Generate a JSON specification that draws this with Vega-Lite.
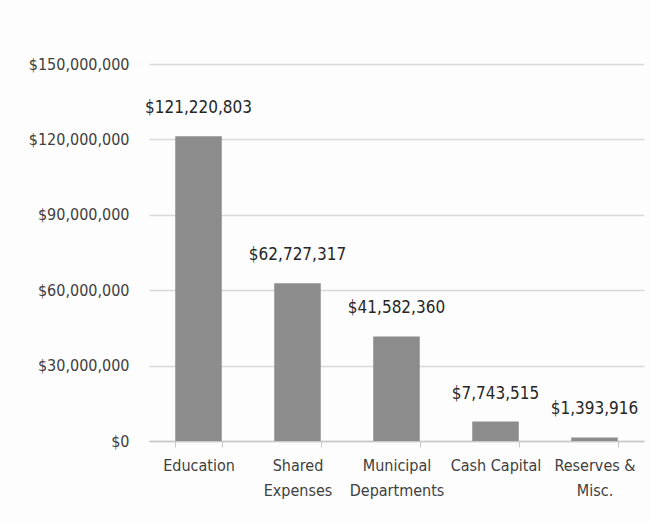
{
  "$schema": "https://vega.github.io/schema/vega-lite/v6.json",
  "width": 495,
  "height": 377,
  "padding": {"left": 28, "top": 56, "right": 7, "bottom": 24},
  "autosize": {"type": "pad"},
  "background": "#fdfdfd",
  "config": {
    "view": {"stroke": null},
    "font": "Liberation Sans Narrow, DejaVu Sans Condensed, sans-serif"
  },
  "data": {
    "values": [
      {"category": "Education", "amount": 121220803},
      {"category": "Shared Expenses", "amount": 62727317},
      {"category": "Municipal Departments", "amount": 41582360},
      {"category": "Cash Capital", "amount": 7743515},
      {"category": "Reserves & Misc.", "amount": 1393916}
    ]
  },
  "encoding": {
    "x": {
      "field": "category",
      "type": "nominal",
      "sort": null,
      "scale": {"paddingInner": 0.53, "paddingOuter": 0.265},
      "axis": {
        "title": null,
        "labelAngle": 0,
        "labelFontSize": 16,
        "labelColor": "#404040",
        "labelPadding": 10,
        "labelLineHeight": 25,
        "domainColor": "#c8c8c8",
        "domainWidth": 1.5,
        "tickColor": "#c8c8c8",
        "tickSize": 6,
        "tickBand": "extent",
        "labelExpr": "datum.value == 'Shared Expenses' ? ['Shared', 'Expenses'] : datum.value == 'Municipal Departments' ? ['Municipal', 'Departments'] : datum.value == 'Reserves & Misc.' ? ['Reserves &', 'Misc.'] : datum.value"
      }
    },
    "y": {
      "field": "amount",
      "type": "quantitative",
      "scale": {"domain": [0, 150000000]},
      "axis": {
        "title": null,
        "values": [0, 30000000, 60000000, 90000000, 120000000, 150000000],
        "format": "$,.0f",
        "labelFontSize": 16,
        "labelColor": "#404040",
        "labelPadding": 20,
        "ticks": false,
        "domain": false,
        "gridColor": "#d9d9d9",
        "gridWidth": 1.5
      }
    }
  },
  "layer": [
    {"mark": {"type": "bar", "color": "#8c8c8c"}},
    {
      "mark": {"type": "text", "dy": -19, "fontSize": 17, "color": "#262626", "baseline": "bottom"},
      "encoding": {"text": {"field": "amount", "type": "quantitative", "format": "$,.0f"}}
    }
  ]
}
